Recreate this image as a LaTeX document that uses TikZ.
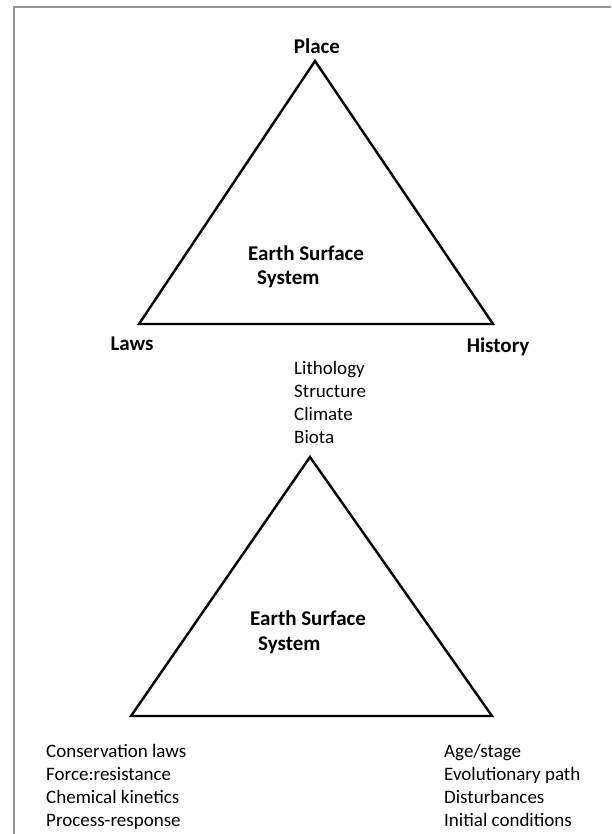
\documentclass[tikz,border=0pt]{standalone}
\usepackage{fontspec}
\setmainfont{Carlito}
\begin{document}
\begin{tikzpicture}[x=1pt,y=-1pt,
  tri/.style={line width=2.4pt, line join=miter},
  lbl/.style={font=\fontsize{21}{25}\selectfont\bfseries, inner sep=0pt},
  lst/.style={font=\fontsize{19}{23}\selectfont, align=left, inner sep=0pt, anchor=north west},
  frm/.style={draw=gray!85, line width=2pt}]
\useasboundingbox (0,0) rectangle (611,834);
% frame (only top and left visible)
\coordinate (fa) at (611,7);
\coordinate (fb) at (14,7);
\coordinate (fc) at (14,834);
\draw[frm] (fa) -- (fb) -- (fc);
% top triangle
\coordinate (t1) at (315,61);
\coordinate (t2) at (139,324);
\coordinate (t3) at (493,324);
\draw[tri] (t1) -- (t2) -- (t3) -- cycle;
\node[lbl] (place) at (317,46) {Place};
\node[lbl] (laws) at (132,344) {Laws};
\node[lbl] (hist) at (498,347) {History};
\node[lbl, anchor=west] (ess1a) at (248,253) {Earth Surface};
\node[lbl, anchor=west] (ess1b) at (257,279) {System};
\node[lst] (place list) at (294,361) {Lithology\\Structure\\Climate\\Biota};
% bottom triangle
\coordinate (b1) at (310,457);
\coordinate (b2) at (131,716);
\coordinate (b3) at (492,716);
\draw[tri] (b1) -- (b2) -- (b3) -- cycle;
\node[lbl, anchor=west] (ess2a) at (250,618) {Earth Surface};
\node[lbl, anchor=west] (ess2b) at (258,645) {System};
\node[lst] (laws list) at (46,744) {Conservation laws\\Force:resistance\\Chemical kinetics\\Process-response};
\node[lst] (hist list) at (444,744) {Age/stage\\Evolutionary path\\Disturbances\\Initial conditions};
\end{tikzpicture}
\end{document}
